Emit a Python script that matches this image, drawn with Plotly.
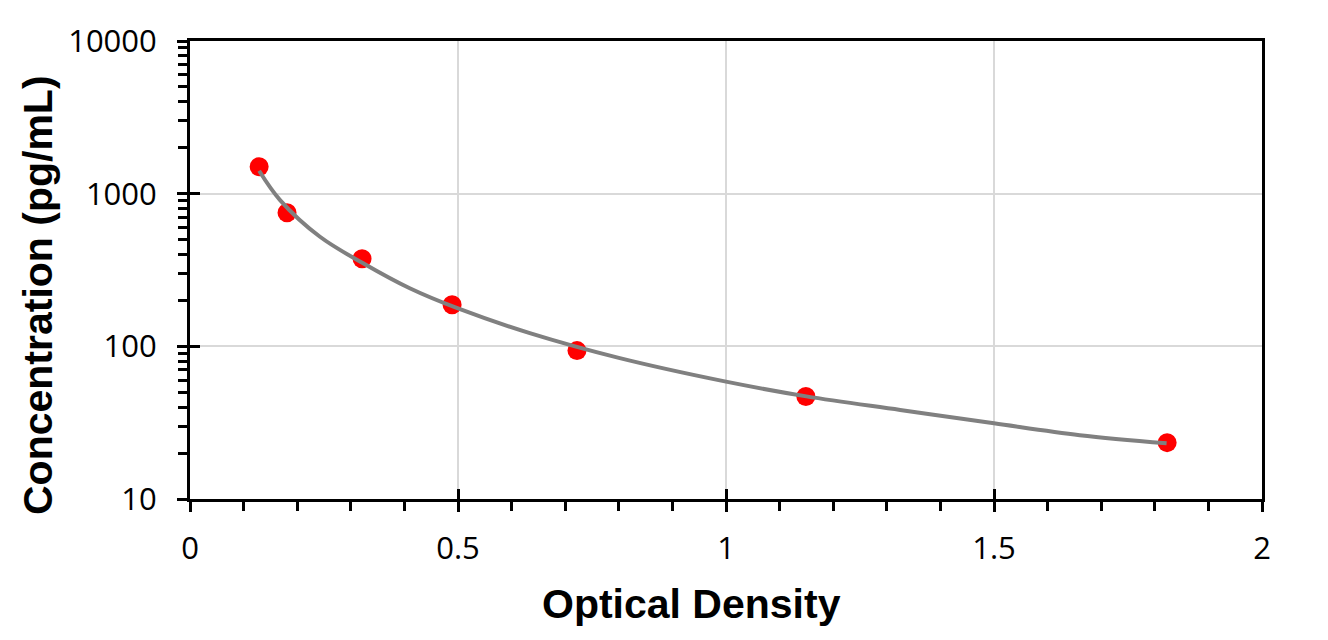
import plotly.graph_objects as go

# standard points
od = [0.129, 0.181, 0.321, 0.489, 0.722, 1.149, 1.823]
conc = [1500, 750, 375, 187.5, 93.75, 46.875, 23.4]

# fitted curve
curve_od = [0.129, 0.168, 0.2425, 0.323, 0.41, 0.5, 0.634, 0.8, 1.0, 1.15, 1.325, 1.5, 1.66, 1.822]
curve_conc = [1413, 908, 522, 350, 240, 177, 122, 84, 58.7, 47, 38.3, 31.3, 26.2, 23.2]

x_ticks = [0, 0.5, 1, 1.5, 2]
x_labels = ['0', '0.5', '1', '1.5', '2']
y_ticks = [10, 100, 1000, 10000]
y_labels = ['10', '100', '1000', '10000']

tick_font = dict(family='Open Sans', size=31, color='black')
title_font = dict(family='Liberation Sans', size=41, color='black')

fig = go.Figure()
fig.add_trace(go.Scatter(x=od, y=conc, mode='markers',
                         marker=dict(color='#ff0000', size=19), showlegend=False))
fig.add_trace(go.Scatter(x=curve_od, y=curve_conc, mode='lines', line_shape='spline',
                         line=dict(color='#808080', width=4), showlegend=False))
# invisible trace to carry the overlay axes (inner half of major ticks)
fig.add_trace(go.Scatter(x=[None], y=[None], xaxis='x2', yaxis='y2', showlegend=False))

fig.update_layout(
    width=1328, height=640,
    margin=dict(l=182, r=74, t=33, b=149, autoexpand=False),
    plot_bgcolor='white', paper_bgcolor='white',
    xaxis=dict(range=[0, 2], tickvals=x_ticks, ticktext=x_labels, automargin=False,
               showline=True, linecolor='black', linewidth=3, mirror=True,
               showgrid=True, gridcolor='#d9d9d9', gridwidth=2, zeroline=False,
               ticks='outside', ticklen=10, tickwidth=3, tickcolor='black',
               ticklabelstandoff=10,
               minor=dict(dtick=0.1, tick0=0, ticks='outside', ticklen=9, tickwidth=2.5,
                          tickcolor='black', showgrid=False),
               tickfont=tick_font),
    yaxis=dict(type='log', range=[1, 4], tickvals=y_ticks, ticktext=y_labels, automargin=False,
               showline=True, linecolor='black', linewidth=3, mirror=True,
               showgrid=True, gridcolor='#d9d9d9', gridwidth=2, zeroline=False,
               ticks='outside', ticklen=10, tickwidth=3, tickcolor='black',
               ticklabelstandoff=14,
               minor=dict(dtick='D1', ticks='outside', ticklen=9, tickwidth=2.5,
                          tickcolor='black', showgrid=False),
               tickfont=tick_font),
    xaxis2=dict(range=[0, 2], tickvals=x_ticks, overlaying='x', showgrid=False, zeroline=False,
                ticks='inside', ticklen=10, tickwidth=3, tickcolor='black',
                showticklabels=False, side='bottom'),
    yaxis2=dict(type='log', range=[1, 4], tickvals=y_ticks, overlaying='y', showgrid=False,
                zeroline=False, ticks='inside', ticklen=10, tickwidth=3,
                tickcolor='black', showticklabels=False, side='left'),
)

# axis titles as annotations, sitting where the original has them
fig.add_annotation(text='<b>Optical Density</b>', xref='paper', yref='paper',
                   x=0.4674, y=-0.229, xanchor='center', yanchor='middle',
                   showarrow=False, font=title_font)
fig.add_annotation(text='<b>Concentration (pg/mL)</b>', xref='paper', yref='paper',
                   x=-0.1418, y=0.4454, xanchor='center', yanchor='middle',
                   textangle=-90, showarrow=False, font=title_font)

fig.write_html('out.html')
